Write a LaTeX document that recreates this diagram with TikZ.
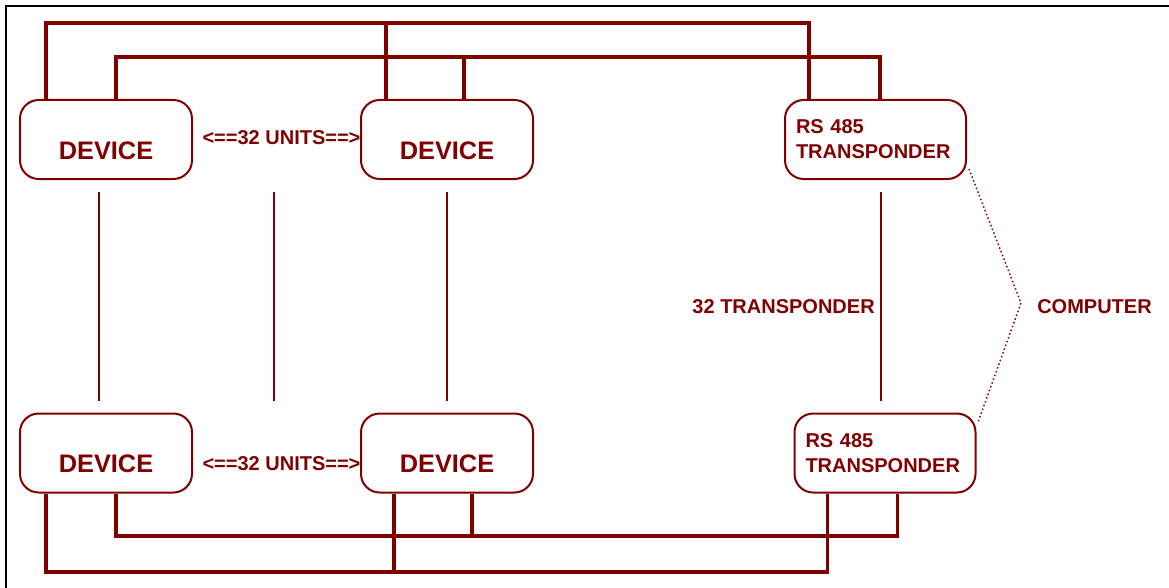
\documentclass[tikz,border=0pt]{standalone}
\usepackage{fontspec}
\setmainfont{Liberation Sans}
\definecolor{wire}{HTML}{800000}
\tikzset{
	unit/.style={draw=wire, line width=1.5pt, rounded corners=14pt, text=wire, font=\fontsize{19pt}{22pt}\selectfont\bfseries, minimum width=129pt, text height=44.25pt, text depth=15pt, inner ysep=0pt},
	relay/.style={draw=wire, line width=1.5pt, rounded corners=14pt, text=wire, font=\fontsize{15pt}{18.75pt}\selectfont\bfseries, minimum width=135.75pt, minimum height=59.25pt, text width=119.25pt, inner xsep=8.25pt, align=left},
	tag/.style={text=wire, font=\fontsize{15pt}{18pt}\selectfont\bfseries, inner sep=0pt, anchor=base},
	bus/.style={draw=wire, line width=2.5pt},
	link/.style={draw=wire, line width=1.1pt},
	dots/.style={draw=wire, line width=1.1pt, dash pattern=on 1.1pt off 1.9pt}
}
\begin{document}
\begin{tikzpicture}[x=0.75pt, y=-0.75pt]
				\useasboundingbox (0,0) rectangle (1169,588);
				\draw[line width=1.5pt] (6,588) -- (6,6) -- (1169,6);
				\node[unit] (d1) at (106,139.5) {DEVICE};
				\node[unit] (d2) at (447,139.5) {DEVICE};
				\node[unit] (d3) at (106,453) {DEVICE};
				\node[unit] (d4) at (447,453) {DEVICE};
				\node[relay] (t1) at (875.5,139.5) {RS 485\\TRANSPONDER};
				\node[relay] (t2) at (885,453) {RS 485\\TRANSPONDER};
				\node[tag] (u1) at (281.5,145) {<==32 UNITS==>};
				\node[tag] (u2) at (281.5,470) {<==32 UNITS==>};
				\node[tag, anchor=base east] (n32) at (875,313) {32 TRANSPONDER};
				\node[tag, anchor=base west] (pc) at (1037,313) {COMPUTER};
				\coordinate (busA) at (0,23);
				\coordinate (busB) at (0,57);
				\coordinate (busC) at (0,536);
				\coordinate (busD) at (0,572);
				\coordinate (apex) at (1021,303);
				\draw[bus] ([shift={(27,0)}]d1.north west) coordinate (a1) -- (a1 |- busA) -| ([shift={(25,0)}]t1.north west);
				\draw[bus] ([shift={(26,0)}]d2.north west) coordinate (a2) -- (a2 |- busA);
				\draw[bus] ([shift={(97,0)}]d1.north west) coordinate (b1) -- (b1 |- busB) -| ([shift={(96,0)}]t1.north west);
				\draw[bus] ([shift={(104,0)}]d2.north west) coordinate (b2) -- (b2 |- busB);
				\draw[bus] ([shift={(97,0)}]d3.south west) coordinate (e1) -- (e1 |- busC) -| ([shift={(104,0)}]t2.south west);
				\draw[bus] ([shift={(112,0)}]d4.south west) coordinate (e2) -- (e2 |- busC);
				\draw[bus] ([shift={(27,0)}]d3.south west) coordinate (c1) -- (c1 |- busD) -| ([shift={(34,0)}]t2.south west);
				\draw[bus] ([shift={(34,0)}]d4.south west) coordinate (c2) -- (c2 |- busD);
				\draw[link] ([shift={(-7,11.5)}]d1.south) -- ([shift={(-7,-11.5)}]d3.north);
				\draw[link] ([shift={(81,11.5)}]d1.south east) -- ([shift={(81,-11.5)}]d3.north east);
				\draw[link] ([shift={(0,11.5)}]d2.south) -- ([shift={(0,-11.5)}]d4.north);
				\draw[link] ([shift={(5.5,11.5)}]t1.south) -- ([shift={(-4,-11.5)}]t2.north);
				\draw[dots] ([shift={(2,-11)}]t1.south east) -- (apex) -- ([shift={(1,11)}]t2.north east);
			\end{tikzpicture}
\end{document}
